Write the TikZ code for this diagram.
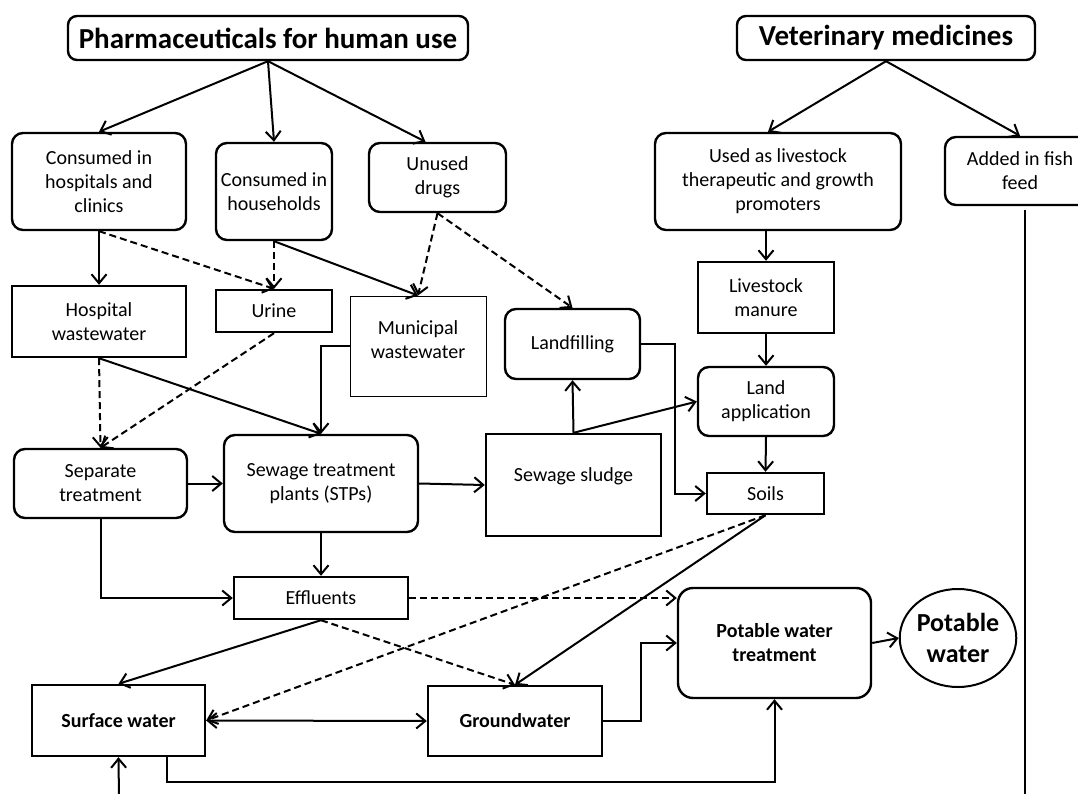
\documentclass[tikz,border=0pt]{standalone}
\usepackage{fontspec}
\setmainfont{Carlito}
\usepackage{tikz}
\usetikzlibrary{arrows.meta,positioning,shapes.geometric}
\tikzset{
  box/.style={draw,line width=2.4pt,inner sep=2pt,align=center,
    font=\fontsize{20}{24}\selectfont},
  rbox/.style={box,rounded corners=11pt},
  head/.style={rbox,rounded corners=9pt,font=\fontsize{29}{34}\selectfont\bfseries},
  bold/.style={font=\fontsize{20}{24}\selectfont\bfseries},
  flow/.style={line width=2pt,-{Straight Barb[length=9pt,width=15pt]}},
  dflow/.style={flow,dash pattern=on 7pt off 4pt}
}

\begin{document}
\begin{tikzpicture}[x=1pt, y=-1pt]
  \clip (0,0) rectangle (1078,794);

  % --- Sources ---
  \node[head, minimum width=400pt, minimum height=44pt] (PH) at (268,38) {Pharmaceuticals for human use};
  \node[head, minimum width=298pt, minimum height=44pt] (VM) at (886,38) {Veterinary medicines};

  % --- Human use ---
  \node[rbox, minimum width=174pt, minimum height=97pt] (CH) at (99,181.5) {Consumed in\\hospitals and\\clinics};
  \node[rbox, minimum width=116pt, minimum height=97pt] (CD) at (274,191.5) {Consumed in\\households};
  \node[rbox, minimum width=137pt, minimum height=69pt] (UD) at (437.5,177.5) {Unused\\drugs};
  \node[box, minimum width=174pt, minimum height=71pt] (HW) at (99,321.5) {Hospital\\wastewater};
  \node[box, minimum width=116pt, minimum height=42pt] (UR) at (274,311) {Urine};
  \node[box, line width=1pt, minimum width=136pt, minimum height=100pt, text depth=12pt] (MW) at (418,346) {Municipal\\wastewater};
  \node[rbox, minimum width=135pt, minimum height=70pt] (LF) at (572.5,344) {Landfilling};
  \node[rbox, minimum width=173pt, minimum height=69pt] (SP) at (100.5,483.5) {Separate\\treatment};
  \node[rbox, minimum width=194pt, minimum height=97pt] (ST) at (321,483.5) {Sewage treatment\\plants (STPs)};
  \node[box, minimum width=175pt, minimum height=102pt, text depth=20pt] (SL) at (573.5,485) {Sewage sludge};
  \node[box, minimum width=174pt, minimum height=42pt] (EF) at (321,598) {Effluents};

  % --- Veterinary use ---
  \node[rbox, minimum width=246pt, minimum height=97pt] (LU) at (778,181.5) {Used as livestock\\therapeutic and growth\\promoters};
  \node[rbox, minimum width=150pt, minimum height=68pt] (FF) at (1020,171) {Added in fish\\feed};
  \node[box, minimum width=136pt, minimum height=71pt] (MN) at (766,297.5) {Livestock\\manure};
  \node[rbox, minimum width=136pt, minimum height=69pt] (LA) at (766,401.5) {Land\\application};
  \node[box, minimum width=117pt, minimum height=41pt] (SO) at (765.5,493.5) {Soils};

  % --- Water ---
  \node[box, bold, minimum width=173pt, minimum height=71pt] (SW) at (118.5,720.5) {Surface water};
  \node[box, bold, minimum width=174pt, minimum height=70pt] (GW) at (515,721) {Groundwater};
  \node[rbox, bold, rounded corners=15pt, minimum width=193pt, minimum height=110pt] (PT) at (774.5,643) {Potable water\\treatment};
  \node[ellipse, draw, line width=2pt, inner sep=0pt, align=center, minimum width=114pt, minimum height=98pt,
    font=\fontsize{26}{31}\selectfont\bfseries] (PW) at (958,638) {Potable\\water};
  \coordinate (SI) at (119,800);
  \coordinate (FE) at (1025,800);

  % --- Connectors ---
  \draw[flow] (PH.south) -- (CH.north);
  \draw[flow] (PH.south) -- (CD.north);
  \draw[flow] (PH.south) -- ([xshift=-12pt]UD.north);
  \draw[flow] (VM.south) -- ([xshift=-10pt]LU.north);
  \draw[flow] (VM.south) -- (FF.north);
  \draw[line width=2pt] ([yshift=-4pt]FF.south -| FE) -- (FE);

  \draw[flow] (CH.south) -- (HW.north);
  \draw[dflow] (CH.south) -- (UR.north);
  \draw[dflow] (CD.south) -- (UR.north);
  \draw[flow] (CD.south) -- (MW.north);
  \draw[dflow] (UD.south) -- (MW.north);
  \draw[dflow] (UD.south) -- (LF.north);
  \draw[dflow] (HW.south) -- (SP.north);
  \draw[dflow] (UR.south) -- (SP.north);
  \draw[flow] (HW.south) -- (ST.north);
  \draw[flow] (MW.west) -| (ST.north);
  \draw[flow] (SP.east) -- (ST.west);
  \draw[flow] (ST.east) -- (SL.west);
  \draw[flow] (SL.north) -- (LF.south);
  \draw[flow] (SL.north) -- (LA.west);
  \draw[flow] (LF.east) -- ++(34,0) |- (SO.west);

  \draw[flow] (MN.north |- LU.south) -- (MN.north);
  \draw[flow] (MN.south) -- (LA.north);
  \draw[flow] (LA.south) -- (SO.north);

  \draw[flow] (SP.south) |- (EF.west);
  \draw[flow] (ST.south) -- (EF.north);
  \draw[flow] (EF.south) -- (SW.north);
  \draw[dflow] (EF.east) -- (EF.east -| PT.west);
  \draw[dflow] (EF.south) -- (GW.north);
  \draw[dflow] (SO.south) -- (SW.east);
  \draw[flow] (SO.south) -- (GW.north);
  \draw[{Straight Barb[length=9pt,width=15pt]}-{Straight Barb[length=9pt,width=15pt]}, line width=2pt] (SW.east) -- (GW.west);
  \draw[flow] (GW.east) -- ++(38,0) |- (PT.west);
  \draw[flow] (PT.east) -- (PW.west);
  \draw[flow] ([xshift=48pt]SW.south) -- ++(0,25) -| (PT.south);
  \draw[flow] (SI) -- (SW.south);
\end{tikzpicture}
\end{document}
